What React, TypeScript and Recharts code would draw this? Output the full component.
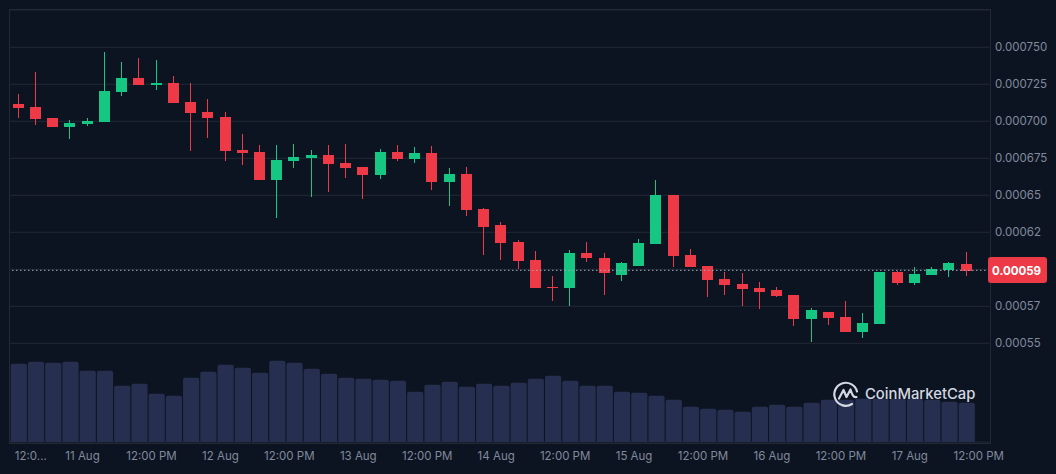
import React from 'react';
import { ComposedChart, Bar, XAxis, YAxis, CartesianGrid, ReferenceLine } from 'recharts';

// prices are in millionths, 711.7 = 0.0007117
const opens = [
  711.7, 709.7, 702.3, 696.2, 698.2, 699.5, 719.8, 729.3, 724.6, 725.9, 713.1, 706.3, 702.9, 680.6,
  679.3, 660.3, 673.2, 675.2, 677.2, 671.8, 669.1, 663.7, 679.3, 674.5, 678.6, 659.0, 664.4, 640.8,
  630.0, 618.5, 606.3, 588.1, 587.4, 611.0, 607.6, 596.2, 602.2, 617.1, 650.2, 609.7, 602.2, 593.5,
  590.1, 587.4, 586.0, 582.7, 566.4, 571.2, 567.8, 557.7, 563.1, 598.2, 590.8, 596.2, 599.5, 603.6,
];
const closes = [
  709.0, 701.6, 696.2, 698.9, 700.2, 720.5, 729.3, 724.6, 725.9, 712.4, 705.6, 702.3, 680.0, 678.6,
  660.3, 673.9, 675.9, 677.2, 671.2, 668.5, 663.7, 679.3, 674.5, 678.6, 659.0, 664.4, 640.1, 628.6,
  617.8, 605.6, 587.4, 587.4, 611.0, 607.6, 597.5, 604.3, 617.8, 650.2, 609.0, 601.6, 592.8, 589.4,
  586.7, 584.7, 582.0, 566.4, 572.5, 567.1, 557.7, 563.7, 598.2, 590.8, 596.9, 600.2, 604.3, 598.9,
];
const highs = [
  718.5, 733.3, 702.3, 700.9, 702.3, 746.8, 740.1, 742.8, 741.4, 730.6, 725.9, 715.1, 706.3, 691.4,
  684.0, 684.0, 684.7, 680.6, 684.0, 684.7, 669.1, 681.3, 684.0, 682.7, 683.3, 668.5, 669.1, 641.4,
  632.0, 619.8, 612.4, 595.5, 613.1, 618.5, 611.0, 604.9, 620.5, 660.4, 650.2, 613.7, 602.2, 598.2,
  597.5, 591.4, 588.1, 582.7, 573.9, 571.2, 578.6, 570.5, 598.2, 598.9, 601.6, 601.6, 605.0, 611.7,
];
const lows = [
  702.3, 697.5, 696.2, 688.1, 696.8, 699.5, 717.1, 724.6, 721.2, 712.4, 680.0, 688.7, 673.2, 670.5,
  660.3, 634.7, 668.5, 648.9, 652.3, 661.7, 647.5, 661.0, 673.2, 671.8, 653.6, 642.8, 636.0, 609.7,
  606.3, 600.2, 587.4, 578.6, 575.2, 604.9, 582.6, 592.1, 602.2, 617.1, 601.6, 601.6, 581.3, 582.7,
  575.2, 573.2, 581.3, 561.7, 550.9, 562.4, 557.7, 553.6, 563.1, 589.4, 589.4, 596.2, 594.8, 595.5,
];
const volumes = [
  78.3, 80.3, 79.3, 80.3, 71.3, 71.3, 56.3, 58.3, 48.3, 46.3, 64.3, 70.3, 77.3, 74.3,
  69.3, 81.3, 79.3, 73.3, 68.3, 64.3, 63.3, 62.3, 61.3, 50.3, 57.3, 60.3, 55.3, 58.3,
  56.3, 59.3, 63.3, 66.3, 61.3, 56.3, 56.3, 50.3, 49.3, 46.3, 42.3, 35.3, 33.3, 32.3,
  30.3, 35.3, 37.3, 35.3, 39.3, 42.3, 42.3, 43.3, 43.3, 43.3, 43.3, 42.3, 40.3, 39.3,
];

const priceTicks = [550, 575, 600, 625, 650, 675, 700, 725, 750];
// the 0.00060 label sits behind the last price tag, so it stays blank
const priceLabels = ['0.00055', '0.00057', '', '0.00062', '0.00065', '0.000675', '0.000700', '0.000725', '0.000750'];
const timeTicks = [0, 3, 7, 11, 15, 19, 23, 27, 31, 35, 39, 43, 47, 51, 55];
const timeLabels = ['12:0...', '11 Aug', '12:00 PM', '12 Aug', '12:00 PM', '13 Aug', '12:00 PM', '14 Aug', '12:00 PM', '15 Aug', '12:00 PM', '16 Aug', '12:00 PM', '17 Aug', '12:00 PM'];
const lastPrice = 599.3;
const lastPriceLabel = '0.00059';

const GREEN = '#16c784';
const RED = '#ed3a46';
const GRID = '#222836';
const TEXT = '#808a9d';
const FONT = 'Inter, sans-serif';

const data = opens.map((open, i) => ({
  i,
  open,
  close: closes[i],
  range: [lows[i], highs[i]],
  volume: volumes[i],
}));

const Candle = (props: any) => {
  const { x, y, width, height, payload } = props;
  const [low, high] = payload.range;
  const k = height / (high - low);
  const color = payload.close >= payload.open ? GREEN : RED;
  const left = Math.round(x);
  const bodyTop = Math.round(y + (high - Math.max(payload.open, payload.close)) * k);
  const bodyBottom = Math.round(y + (high - Math.min(payload.open, payload.close)) * k);
  return (
    <g>
      <rect x={left + 5} y={Math.round(y)} width={1} height={Math.round(height)} fill={color} />
      <rect x={left} y={bodyTop} width={11} height={Math.max(bodyBottom - bodyTop, 1)} fill={color} />
    </g>
  );
};

const PriceTag = (props: any) => {
  const { viewBox } = props;
  const right = viewBox.x + viewBox.width;
  const mid = viewBox.y;
  return (
    <g>
      <rect x={right - 1.5} y={mid - 13.3} width={59} height={26} rx={3} fill={RED} />
      <text x={right + 27} y={mid + 4.5} textAnchor="middle" fill="#fff" fontSize={11.5} fontWeight={700} fontFamily={FONT}>
        {lastPriceLabel}
      </text>
    </g>
  );
};

const Logo = () => (
  <svg width={150} height={30} style={{ position: 'absolute', left: 832, top: 380 }}>
    <path
      d="M 25 11.5 A 11.5 11.5 0 1 0 20 24"
      fill="none"
      stroke="#d3d8e2"
      strokeWidth={2.2}
      strokeLinecap="round"
    />
    <path
      d="M 7 18.5 L 11.5 10 L 14.5 17 L 18.5 9.5 C 20 14 21 18 24.5 17"
      fill="none"
      stroke="#d3d8e2"
      strokeWidth={2.2}
      strokeLinecap="round"
      strokeLinejoin="round"
    />
    <text x={33} y={19} fill="#d3d8e2" fontSize={14.8} fontWeight={500} fontFamily={FONT}>
      CoinMarketCap
    </text>
  </svg>
);

export default function App() {
  return (
    <div style={{ position: 'absolute', left: 0, top: 0, width: 1056, height: 474, background: '#0d1421', overflow: 'hidden' }}>
      <div style={{ position: 'absolute', left: 9, top: 9, width: 980, height: 433, border: `1px solid ${GRID}` }} />
      <div style={{ position: 'absolute', left: 0, top: 0 }}>
        <ComposedChart width={1056} height={474} data={data} margin={{ top: 10, right: 0, bottom: 0, left: 9.7 }}>
          <CartesianGrid xAxisId="time" yAxisId="price" vertical={false} stroke={GRID} />
          <XAxis
            xAxisId="time"
            dataKey="i"
            ticks={timeTicks}
            interval={0}
            padding={{ left: 0, right: 14.6 }}
            height={32}
            axisLine={false}
            tickLine={false}
            tickSize={0}
            tickMargin={10}
            tick={{ fill: TEXT, fontSize: 11.5, fontFamily: FONT, dx: 12.5 }}
            tickFormatter={(v: number) => timeLabels[timeTicks.indexOf(v)]}
          />
          <XAxis xAxisId="candle" dataKey="i" hide orientation="top" height={0} padding={{ left: 0, right: 14.6 }} />
          <YAxis
            yAxisId="price"
            orientation="right"
            domain={[483.3, 775.2]}
            ticks={priceTicks}
            interval={0}
            allowDataOverflow
            width={66.5}
            axisLine={false}
            tickLine={false}
            tickSize={0}
            tickMargin={5.5}
            tick={{ fill: TEXT, fontSize: 11.5, fontFamily: FONT }}
            tickFormatter={(v: number) => priceLabels[priceTicks.indexOf(v)]}
          />
          <YAxis yAxisId="volume" hide domain={[0, 432]} allowDataOverflow />
          <Bar
            xAxisId="time"
            yAxisId="volume"
            dataKey="volume"
            barSize={16.2}
            fill="#262f50"
            radius={[2, 2, 0, 0]}
            isAnimationActive={false}
          />
          <Bar
            xAxisId="candle"
            yAxisId="price"
            dataKey="range"
            barSize={11}
            shape={Candle}
            isAnimationActive={false}
          />
          <ReferenceLine
            xAxisId="time"
            yAxisId="price"
            y={lastPrice}
            stroke="#a6adbd"
            strokeDasharray="1.5 2.5"
            label={PriceTag}
          />
        </ComposedChart>
      </div>
      <Logo />
    </div>
  );
}
